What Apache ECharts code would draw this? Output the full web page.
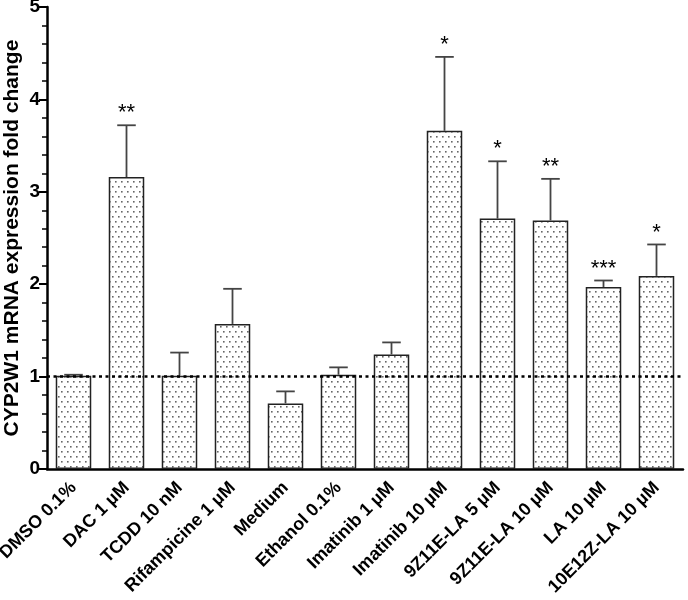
<!DOCTYPE html>
<html><head><meta charset="utf-8">
<script src="https://cdn.jsdelivr.net/npm/echarts@6/dist/echarts.min.js"></script>
<style>html,body{margin:0;padding:0;background:#fff}#c{width:688px;height:600px}</style>
</head><body><div id="c"></div>
<script>
const categories = ['DMSO 0.1%','DAC 1 µM','TCDD 10 nM','Rifampicine 1 µM','Medium','Ethanol 0.1%','Imatinib 1 µM','Imatinib 10 µM','9Z11E-LA 5 µM','9Z11E-LA 10 µM','LA 10 µM','10E12Z-LA 10 µM'];
const means = [1.01, 3.16, 1.01, 1.57, 0.71, 1.02, 1.24, 3.66, 2.71, 2.69, 1.97, 2.09];
const upperErr = [1.02, 3.72, 1.26, 1.95, 0.84, 1.10, 1.37, 4.46, 3.33, 3.14, 2.04, 2.43];
const significance = ['', '**', '', '', '', '', '', '*', '*', '**', '***', '*'];
const yTicks = [0, 1, 2, 3, 4, 5];

const tile = document.createElement('canvas');
tile.width = 6; tile.height = 10;
const tc = tile.getContext('2d');
tc.fillStyle = '#fff'; tc.fillRect(0, 0, 6, 10);
tc.fillStyle = '#666';
tc.fillRect(1, 1, 1.6, 1.6);
tc.fillRect(4, 6, 1.6, 1.6);

const font = '"Liberation Sans", Arial, sans-serif';
const chart = echarts.init(document.getElementById('c'));
chart.setOption({
  animation: false,
  grid: {left: 47, right: 5, top: 7, bottom: 131, containLabel: false, outerBoundsMode: 'none'},
  xAxis: {
    type: 'category', data: categories,
    axisLine: {lineStyle: {color: '#000', width: 2.5}},
    axisTick: {alignWithLabel: true, length: 6, lineStyle: {color: '#000', width: 2}},
    axisLabel: {rotate: 45, margin: 16, fontFamily: font, fontWeight: 'bold', fontSize: 18, color: '#000', interval: 0}
  },
  yAxis: {
    type: 'value', min: yTicks[0], max: yTicks[yTicks.length - 1], interval: 1,
    name: 'CYP2W1 mRNA expression fold change', nameLocation: 'middle', nameGap: 24,
    nameMoveOverlap: false,
    nameTextStyle: {fontFamily: font, fontWeight: 'bold', fontSize: 21, color: '#000'},
    axisLine: {show: true, lineStyle: {color: '#000', width: 2.5}},
    axisTick: {show: true, length: 8, lineStyle: {color: '#000', width: 2}},
    minorTick: {show: true, splitNumber: 5, length: 5, lineStyle: {color: '#000', width: 1.5}},
    splitLine: {show: false},
    axisLabel: {fontFamily: font, fontWeight: 'bold', fontSize: 19, color: '#000', margin: 7}
  },
  series: [{
    type: 'bar', data: means, barWidth: '67%',
    itemStyle: {color: {image: tile, repeat: 'repeat'}, borderColor: '#222', borderWidth: 1.5},
    markLine: {
      silent: true, symbol: 'none', label: {show: false},
      lineStyle: {color: '#000', type: [3, 3.5], width: 2.5},
      data: [{yAxis: 1}]
    },
    z: 2
  }, {
    type: 'custom',
    data: categories.map((c, i) => [i, means[i], upperErr[i]]),
    renderItem: function (params, api) {
      const i = api.value(0);
      const p0 = api.coord([i, api.value(1)]);
      const p1 = api.coord([i, api.value(2)]);
      const hw = api.size([1, 0])[0] * 0.175;
      const children = [
        {type: 'line', shape: {x1: p0[0], y1: p0[1], x2: p1[0], y2: p1[1]}, style: {stroke: '#444', lineWidth: 1.8}},
        {type: 'line', shape: {x1: p1[0] - hw, y1: p1[1], x2: p1[0] + hw, y2: p1[1]}, style: {stroke: '#444', lineWidth: 1.8}}
      ];
      const s = significance[i];
      if (s) {
        children.push({type: 'text', style: {text: s, x: p1[0], y: p1[1] - 12, align: 'center', verticalAlign: 'middle', fontSize: 22, fontFamily: font, fill: '#000'}});
      }
      return {type: 'group', children: children};
    },
    z: 3
  }]
});
</script></body></html>
